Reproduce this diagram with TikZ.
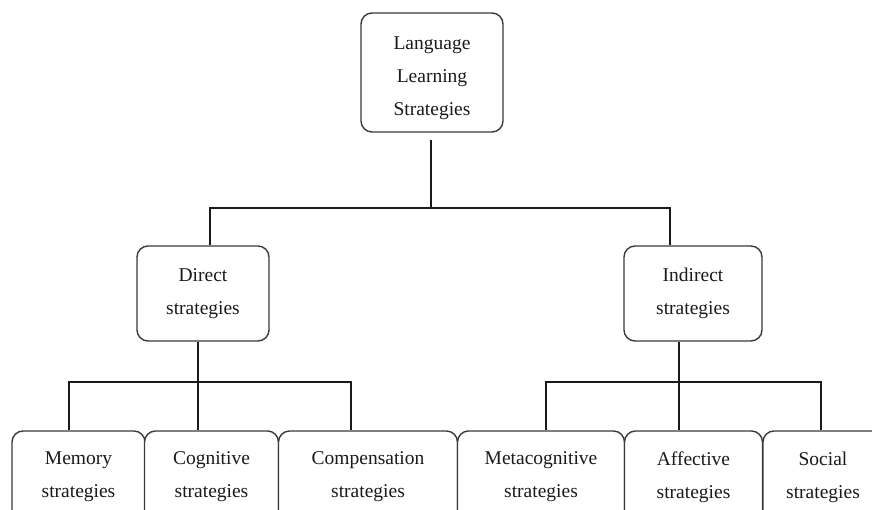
\documentclass[tikz,border=0pt]{standalone}
\usepackage{fontspec}
\setmainfont{Liberation Serif}
\usetikzlibrary{calc}
\definecolor{edge}{HTML}{3A3A3A}
\definecolor{ink}{HTML}{1A1A1A}
\tikzset{
  box/.style={draw=edge, line width=1.4pt, rounded corners=11pt, fill=white,
    align=center, text=ink, inner sep=0pt, font=\fontsize{19.5}{33}\selectfont},
  txt/.style={align=center, text=ink, inner sep=0pt, font=\fontsize{19.5}{33}\selectfont},
  conn/.style={draw=ink, line width=1.3pt}
}
\begin{document}
\begin{tikzpicture}[x=1pt,y=-1pt]
\useasboundingbox (0,0) rectangle (872,510);
\clip (0,0) rectangle (872,510);

% level 0
\node[box, minimum width=142pt, minimum height=119pt] (root) at (432,72.5) {};
\node[txt] (rootlabel) at (432,78) {Language\\Learning\\Strategies};

% level 1
\node[box, minimum width=132pt, minimum height=95pt] (direct) at (203,293.5) {Direct\\strategies};
\node[box, minimum width=138pt, minimum height=95pt] (indirect) at (693,293.5) {Indirect\\strategies};

% level 2
\node[box, minimum width=133pt, minimum height=92pt] (memory) at (78.5,477) {Memory\\strategies};
\node[box, minimum width=134pt, minimum height=92pt] (cognitive) at (211.5,477) {Cognitive\\strategies};
\node[box, minimum width=179pt, minimum height=92pt] (compensation) at (368,477) {Compensation\\strategies};
\node[box, minimum width=167pt, minimum height=92pt] (metacog) at (541,477) {Metacognitive\\strategies};
\node[box, minimum width=138pt, minimum height=92pt] (affective) at (693.5,477) {Affective\\strategies};
\node[box, minimum width=120pt, minimum height=92pt] (social) at (823,477) {Social\\strategies};

\coordinate (bar0) at (431,208);
\coordinate (bar1) at (198,382);
\coordinate (bar2) at (679,382);

% root connectors
\draw[conn, shorten <=7pt] ([xshift=-1pt]root.south) -- (bar0);
\draw[conn] ([xshift=7pt]direct.north) |- (bar0) -| ([xshift=-23pt]indirect.north);

% direct connectors
\draw[conn] ([xshift=-5pt]direct.south) -- ([xshift=-13.5pt]cognitive.north);
\draw[conn] ([xshift=-9.5pt]memory.north) |- (bar1) -| ([xshift=-17pt]compensation.north);

% indirect connectors
\draw[conn] ([xshift=-14pt]indirect.south) -- ([xshift=-14.5pt]affective.north);
\draw[conn] ([xshift=5pt]metacog.north) |- (bar2) -| ([xshift=-2pt]social.north);
\end{tikzpicture}
\end{document}
